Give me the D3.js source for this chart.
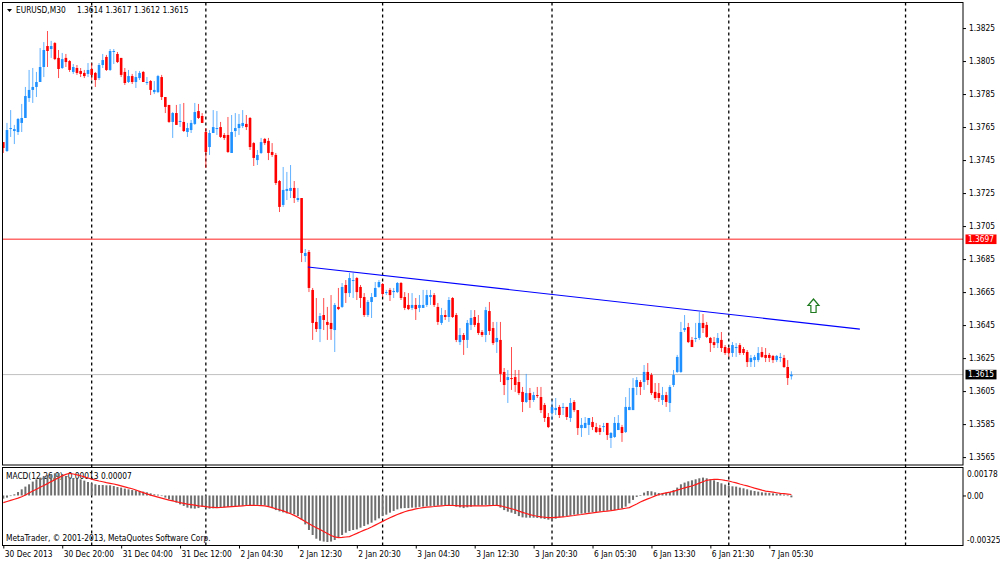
<!DOCTYPE html>
<html><head><meta charset="utf-8">
<script src="https://cdn.jsdelivr.net/npm/d3@7"></script>
<style>
html,body{margin:0;padding:0;background:#fff;}
svg{display:block;}
text{font-family:"DejaVu Sans Condensed","DejaVu Sans","Liberation Sans",sans-serif;font-size:8.3px;fill:#000;}
</style></head><body>
<svg id="c" width="1000" height="562"></svg>
<script>
const symbolLabel = "EURUSD,M30";
const lastQuote = "1.3614 1.3617 1.3612 1.3615";
const macdLabel = "MACD(12,26,9) -0.00013 0.00007";
const copyright = "MetaTrader, \u00A9 2001-2013, MetaQuotes Software Corp.";

const opens = [1.37559,1.37505,1.37638,1.37626,1.37620,1.37675,1.37705,1.37826,1.37875,1.37893,
1.37923,1.38014,1.38141,1.38123,1.38159,1.38069,1.38008,1.38069,1.38050,1.37984,
1.38008,1.37990,1.37978,1.37972,1.38002,1.37978,1.37947,1.38026,1.38075,1.37996,
1.38105,1.38093,1.38069,1.37984,1.37923,1.37959,1.37923,1.37947,1.37984,1.37917,
1.37929,1.37862,1.37862,1.37953,1.37832,1.37784,1.37681,1.37735,1.37681,1.37681,
1.37620,1.37632,1.37669,1.37747,1.37717,1.37620,1.37529,1.37614,1.37638,1.37650,
1.37602,1.37602,1.37493,1.37626,1.37644,1.37656,1.37669,1.37705,1.37553,1.37450,
1.37493,1.37578,1.37566,1.37499,1.37481,1.37323,1.37178,1.37263,1.37263,1.37281,
1.37208,1.37220,1.36869,1.36893,1.36663,1.36469,1.36426,1.36511,1.36469,1.36463,
1.36420,1.36560,1.36560,1.36693,1.36644,1.36717,1.36735,1.36681,1.36620,1.36511,
1.36590,1.36620,1.36681,1.36699,1.36644,1.36663,1.36650,1.36650,1.36705,1.36620,
1.36572,1.36554,1.36572,1.36554,1.36554,1.36572,1.36620,1.36632,1.36560,1.36463,
1.36511,1.36499,1.36614,1.36511,1.36347,1.36390,1.36360,1.36451,1.36499,1.36463,
1.36408,1.36390,1.36535,1.36432,1.36347,1.36360,1.36166,1.36117,1.36129,1.36135,
1.36105,1.36045,1.35984,1.36038,1.35996,1.36026,1.36014,1.35966,1.35893,1.35917,
1.35935,1.35954,1.35948,1.35954,1.35887,1.35984,1.35935,1.35826,1.35826,1.35845,
1.35863,1.35832,1.35826,1.35832,1.35857,1.35766,1.35772,1.35814,1.35832,1.35802,
1.35935,1.35935,1.36075,1.36105,1.36105,1.36166,1.36148,1.36045,1.36038,1.35996,
1.36026,1.35978,1.36087,1.36166,1.36166,1.36420,1.36438,1.36360,1.36366,1.36372,
1.36463,1.36451,1.36372,1.36347,1.36341,1.36360,1.36317,1.36311,1.36281,1.36311,
1.36329,1.36305,1.36287,1.36226,1.36238,1.36238,1.36287,1.36269,1.36269,1.36263,
1.36238,1.36251,1.36251,1.36196,1.36140];
const highs = [1.37559,1.37675,1.37753,1.37663,1.37705,1.37790,1.37893,1.37996,1.38008,1.37984,
1.38129,1.38165,1.38232,1.38172,1.38165,1.38117,1.38099,1.38093,1.38056,1.38032,
1.38026,1.38008,1.37996,1.38038,1.38038,1.37984,1.38038,1.38093,1.38087,1.38123,
1.38123,1.38105,1.38069,1.38008,1.37996,1.37972,1.37990,1.37990,1.37990,1.37953,
1.37935,1.37929,1.37966,1.37966,1.37832,1.37784,1.37741,1.37784,1.37790,1.37796,
1.37675,1.37693,1.37796,1.37790,1.37735,1.37644,1.37632,1.37753,1.37747,1.37681,
1.37614,1.37711,1.37723,1.37735,1.37729,1.37753,1.37723,1.37711,1.37559,1.37511,
1.37584,1.37584,1.37584,1.37553,1.37493,1.37329,1.37408,1.37378,1.37420,1.37323,
1.37281,1.37220,1.36911,1.36905,1.36675,1.36614,1.36523,1.36614,1.36560,1.36632,
1.36584,1.36675,1.36705,1.36723,1.36766,1.36766,1.36741,1.36693,1.36644,1.36602,
1.36644,1.36711,1.36723,1.36705,1.36663,1.36675,1.36675,1.36711,1.36711,1.36650,
1.36644,1.36644,1.36614,1.36632,1.36663,1.36663,1.36663,1.36644,1.36584,1.36554,
1.36541,1.36620,1.36620,1.36523,1.36432,1.36402,1.36481,1.36541,1.36541,1.36511,
1.36420,1.36560,1.36590,1.36469,1.36469,1.36469,1.36190,1.36178,1.36317,1.36178,
1.36178,1.36075,1.36154,1.36069,1.36045,1.36075,1.36075,1.35978,1.35917,1.35996,
1.36008,1.35966,1.35978,1.35954,1.36008,1.35996,1.35935,1.35887,1.35893,1.35887,
1.35893,1.35857,1.35845,1.35857,1.35857,1.35802,1.35893,1.35905,1.35845,1.36014,
1.36069,1.36129,1.36135,1.36117,1.36208,1.36220,1.36160,1.36099,1.36099,1.36075,
1.36045,1.36087,1.36178,1.36269,1.36469,1.36511,1.36463,1.36378,1.36463,1.36529,
1.36517,1.36469,1.36378,1.36378,1.36402,1.36408,1.36329,1.36317,1.36347,1.36341,
1.36341,1.36317,1.36299,1.36269,1.36269,1.36317,1.36317,1.36311,1.36281,1.36269,
1.36269,1.36281,1.36269,1.36238,1.36170];
const lows = [1.37493,1.37499,1.37590,1.37547,1.37602,1.37620,1.37705,1.37802,1.37796,1.37832,
1.37923,1.37953,1.38014,1.38069,1.38056,1.37947,1.38002,1.38014,1.37984,1.37972,
1.37966,1.37953,1.37947,1.37953,1.37935,1.37893,1.37935,1.38008,1.37990,1.37990,
1.38032,1.38038,1.37953,1.37905,1.37917,1.37911,1.37887,1.37935,1.37923,1.37905,
1.37844,1.37850,1.37856,1.37814,1.37735,1.37675,1.37584,1.37663,1.37650,1.37620,
1.37590,1.37614,1.37663,1.37699,1.37675,1.37402,1.37481,1.37614,1.37602,1.37584,
1.37572,1.37493,1.37493,1.37590,1.37602,1.37644,1.37632,1.37511,1.37414,1.37420,
1.37487,1.37541,1.37450,1.37469,1.37299,1.37135,1.37166,1.37208,1.37220,1.37190,
1.37196,1.36832,1.36832,1.36650,1.36360,1.36408,1.36347,1.36420,1.36360,1.36360,
1.36287,1.36541,1.36554,1.36584,1.36620,1.36614,1.36602,1.36554,1.36499,1.36499,
1.36493,1.36620,1.36675,1.36620,1.36632,1.36596,1.36614,1.36644,1.36602,1.36541,
1.36541,1.36541,1.36481,1.36529,1.36554,1.36560,1.36572,1.36560,1.36451,1.36451,
1.36481,1.36469,1.36493,1.36347,1.36329,1.36269,1.36311,1.36420,1.36438,1.36390,
1.36378,1.36347,1.36390,1.36329,1.36281,1.36105,1.36026,1.35978,1.36057,1.36045,
1.36026,1.35923,1.35978,1.35948,1.35984,1.36008,1.35917,1.35863,1.35826,1.35875,
1.35905,1.35887,1.35905,1.35875,1.35863,1.35923,1.35784,1.35772,1.35826,1.35784,
1.35814,1.35796,1.35784,1.35802,1.35754,1.35705,1.35766,1.35814,1.35742,1.35796,
1.35935,1.35935,1.36026,1.36026,1.36057,1.36087,1.36026,1.35996,1.35984,1.35966,
1.35954,1.35923,1.36075,1.36160,1.36160,1.36408,1.36341,1.36317,1.36347,1.36360,
1.36402,1.36372,1.36287,1.36311,1.36311,1.36287,1.36269,1.36257,1.36257,1.36257,
1.36269,1.36269,1.36196,1.36196,1.36196,1.36226,1.36251,1.36226,1.36226,1.36220,
1.36226,1.36226,1.36190,1.36087,1.36120];
const closes = [1.37523,1.37632,1.37644,1.37638,1.37699,1.37705,1.37838,1.37875,1.37893,1.37923,
1.38014,1.38117,1.38111,1.38141,1.38062,1.38002,1.38062,1.38044,1.37996,1.38014,
1.37978,1.37972,1.37959,1.37996,1.37966,1.37935,1.38026,1.38056,1.37996,1.38111,
1.38111,1.38044,1.37966,1.37917,1.37959,1.37923,1.37953,1.37978,1.37923,1.37923,
1.37875,1.37875,1.37959,1.37832,1.37772,1.37681,1.37735,1.37663,1.37687,1.37626,
1.37644,1.37675,1.37741,1.37705,1.37675,1.37499,1.37614,1.37650,1.37644,1.37590,
1.37584,1.37499,1.37620,1.37644,1.37669,1.37675,1.37650,1.37529,1.37463,1.37481,
1.37559,1.37553,1.37493,1.37481,1.37311,1.37166,1.37269,1.37275,1.37281,1.37220,
1.37220,1.36887,1.36887,1.36675,1.36463,1.36426,1.36505,1.36481,1.36451,1.36426,
1.36572,1.36547,1.36681,1.36644,1.36735,1.36723,1.36650,1.36614,1.36511,1.36590,
1.36620,1.36675,1.36711,1.36638,1.36650,1.36632,1.36657,1.36705,1.36614,1.36554,
1.36547,1.36572,1.36547,1.36572,1.36572,1.36632,1.36632,1.36572,1.36469,1.36511,
1.36499,1.36602,1.36499,1.36360,1.36390,1.36360,1.36463,1.36493,1.36451,1.36402,
1.36390,1.36541,1.36414,1.36341,1.36372,1.36154,1.36087,1.36135,1.36123,1.36087,
1.36038,1.35984,1.36038,1.35996,1.36026,1.36020,1.35935,1.35887,1.35832,1.35954,
1.35948,1.35905,1.35954,1.35893,1.35978,1.35935,1.35826,1.35845,1.35857,1.35887,
1.35832,1.35802,1.35802,1.35838,1.35784,1.35796,1.35857,1.35857,1.35796,1.35954,
1.35954,1.36069,1.36117,1.36075,1.36166,1.36117,1.36038,1.36008,1.36008,1.36026,
1.35984,1.36075,1.36148,1.36257,1.36408,1.36432,1.36347,1.36317,1.36372,1.36463,
1.36432,1.36378,1.36341,1.36329,1.36372,1.36311,1.36281,1.36281,1.36329,1.36317,
1.36281,1.36281,1.36226,1.36251,1.36257,1.36281,1.36257,1.36251,1.36251,1.36238,
1.36263,1.36257,1.36196,1.36129,1.36150];

const macdMain = [-0.00022,-0.00015,-0.00004,0.00008,0.00024,0.00043,0.00062,0.00078,0.00097,0.00113,
0.00125,0.00136,0.00143,0.00150,0.00155,0.00157,0.00150,0.00136,0.00127,0.00122,
0.00118,0.00113,0.00104,0.00094,0.00085,0.00078,0.00073,0.00073,0.00071,0.00071,
0.00066,0.00059,0.00055,0.00048,0.00043,0.00038,0.00036,0.00031,0.00027,0.00022,
0.00015,0.00008,0.00006,-0.00004,-0.00015,-0.00027,-0.00038,-0.00050,-0.00062,-0.00073,
-0.00085,-0.00090,-0.00092,-0.00088,-0.00080,-0.00088,-0.00092,-0.00090,-0.00088,-0.00085,
-0.00083,-0.00080,-0.00078,-0.00076,-0.00073,-0.00071,-0.00069,-0.00069,-0.00066,-0.00066,
-0.00066,-0.00069,-0.00076,-0.00088,-0.00102,-0.00111,-0.00118,-0.00125,-0.00127,-0.00132,
-0.00144,-0.00167,-0.00202,-0.00241,-0.00276,-0.00302,-0.00316,-0.00322,-0.00325,-0.00322,
-0.00311,-0.00295,-0.00276,-0.00260,-0.00248,-0.00241,-0.00237,-0.00225,-0.00213,-0.00202,
-0.00190,-0.00174,-0.00160,-0.00144,-0.00134,-0.00120,-0.00108,-0.00097,-0.00090,-0.00088,
-0.00088,-0.00085,-0.00085,-0.00080,-0.00078,-0.00076,-0.00073,-0.00073,-0.00071,-0.00069,
-0.00069,-0.00069,-0.00071,-0.00078,-0.00083,-0.00088,-0.00083,-0.00078,-0.00073,-0.00071,
-0.00069,-0.00066,-0.00066,-0.00069,-0.00071,-0.00085,-0.00102,-0.00113,-0.00120,-0.00129,
-0.00144,-0.00153,-0.00155,-0.00155,-0.00155,-0.00157,-0.00160,-0.00164,-0.00169,-0.00174,
-0.00162,-0.00153,-0.00148,-0.00144,-0.00139,-0.00134,-0.00132,-0.00127,-0.00122,-0.00120,
-0.00118,-0.00115,-0.00111,-0.00108,-0.00106,-0.00104,-0.00102,-0.00097,-0.00090,-0.00078,
-0.00055,-0.00031,-0.00010,0.00001,0.00020,0.00031,0.00029,0.00022,0.00017,0.00015,
0.00020,0.00024,0.00038,0.00055,0.00078,0.00090,0.00099,0.00106,0.00113,0.00120,
0.00125,0.00120,0.00113,0.00106,0.00094,0.00085,0.00076,0.00066,0.00064,0.00062,
0.00055,0.00050,0.00043,0.00036,0.00031,0.00027,0.00022,0.00020,0.00017,0.00015,
0.00013,0.00010,0.00006,-0.00004,-0.00013];
const macdSignal = [-0.00050,-0.00042,-0.00034,-0.00026,-0.00018,-0.00009,0.00003,0.00017,0.00031,0.00044,
0.00057,0.00070,0.00083,0.00097,0.00110,0.00124,0.00137,0.00147,0.00155,0.00150,
0.00144,0.00138,0.00130,0.00122,0.00114,0.00107,0.00101,0.00096,0.00090,0.00085,
0.00080,0.00074,0.00067,0.00060,0.00053,0.00047,0.00038,0.00029,0.00020,0.00011,
0.00003,-0.00004,-0.00011,-0.00018,-0.00025,-0.00032,-0.00038,-0.00044,-0.00050,-0.00055,
-0.00060,-0.00064,-0.00068,-0.00072,-0.00075,-0.00078,-0.00081,-0.00083,-0.00085,-0.00084,
-0.00082,-0.00080,-0.00078,-0.00076,-0.00074,-0.00072,-0.00070,-0.00069,-0.00069,-0.00070,
-0.00071,-0.00073,-0.00078,-0.00085,-0.00093,-0.00100,-0.00108,-0.00118,-0.00128,-0.00139,
-0.00152,-0.00167,-0.00182,-0.00197,-0.00212,-0.00225,-0.00238,-0.00252,-0.00266,-0.00280,
-0.00289,-0.00295,-0.00293,-0.00290,-0.00287,-0.00276,-0.00265,-0.00253,-0.00242,-0.00232,
-0.00220,-0.00207,-0.00194,-0.00181,-0.00168,-0.00156,-0.00144,-0.00133,-0.00123,-0.00114,
-0.00106,-0.00100,-0.00094,-0.00089,-0.00085,-0.00082,-0.00079,-0.00077,-0.00074,-0.00072,
-0.00070,-0.00069,-0.00070,-0.00071,-0.00072,-0.00073,-0.00073,-0.00073,-0.00073,-0.00073,
-0.00073,-0.00072,-0.00071,-0.00070,-0.00069,-0.00072,-0.00079,-0.00086,-0.00093,-0.00100,
-0.00109,-0.00118,-0.00126,-0.00134,-0.00140,-0.00145,-0.00149,-0.00152,-0.00155,-0.00155,
-0.00153,-0.00151,-0.00149,-0.00147,-0.00143,-0.00140,-0.00136,-0.00133,-0.00129,-0.00125,
-0.00122,-0.00118,-0.00115,-0.00112,-0.00109,-0.00106,-0.00102,-0.00098,-0.00094,-0.00089,
-0.00085,-0.00072,-0.00060,-0.00046,-0.00034,-0.00024,-0.00014,-0.00003,0.00007,0.00013,
0.00018,0.00023,0.00029,0.00037,0.00045,0.00053,0.00060,0.00066,0.00076,0.00086,
0.00096,0.00106,0.00110,0.00112,0.00113,0.00110,0.00105,0.00101,0.00094,0.00088,
0.00080,0.00073,0.00067,0.00059,0.00051,0.00044,0.00037,0.00031,0.00027,0.00023,
0.00019,0.00015,0.00013,0.00010,0.00007];

const tickBars = [0,16,32,48,64,80,96,112,128,144,160,176,192,208];
const tickLabels = ["30 Dec 2013","30 Dec 20:00","31 Dec 04:00","31 Dec 12:00","2 Jan 04:30","2 Jan 12:30",
  "2 Jan 20:30","3 Jan 04:30","3 Jan 12:30","3 Jan 20:30","6 Jan 05:30","6 Jan 13:30","6 Jan 21:30","7 Jan 05:30"];
const separatorBars = [24,55,103,149,197,245];
const priceTicks = [1.3825,1.3805,1.3785,1.3765,1.3745,1.3725,1.3705,1.3685,1.3665,1.3645,1.3625,1.3605,1.3585,1.3565];
const hLineLevel = 1.3697;
const bidLevel = 1.3615;
const trendBars = [82.7, 232.6];
const trendPrices = [1.36802, 1.36426];
const arrowBar = 220;
const arrowPrice = 1.36608;
const macdTicks = [0.00178, 0, -0.00325];
const macdTickLabels = ["0.00178", "0.00", "-0.00325"];

// ---------- layout ----------
const plotL = 2, plotR = 963, mainT = 2.5, mainB = 465, macdT = 467.5, macdB = 545.5;
const bull = "#1e90ff", bear = "#ff0000";

const svg = d3.select("#c");
svg.append("rect").attr("width",1000).attr("height",562).attr("fill","#fff");

const x = d3.scaleLinear().domain([0, 260.6]).range([3.3, plotR]);
const y = d3.scaleLinear().domain([1.3565, 1.3825]).range([457.1, 28.05]);
const my = d3.scaleLinear().domain([-0.00325, 0.00178]).range([542, 470]);

const defs = svg.append("defs");
defs.append("clipPath").attr("id","clipMain").append("rect")
  .attr("x",plotL).attr("y",mainT).attr("width",plotR-plotL).attr("height",mainB-mainT);
defs.append("clipPath").attr("id","clipMacd").append("rect")
  .attr("x",plotL).attr("y",macdT).attr("width",plotR-plotL).attr("height",macdB-macdT);

// separators
svg.append("g").selectAll("line").data(separatorBars).join("line")
  .attr("x1",d=>x(d)).attr("x2",d=>x(d)).attr("y1",mainT).attr("y2",macdB)
  .attr("stroke","#000").attr("stroke-width",1.3).attr("stroke-dasharray","3,3");

const gM = svg.append("g").attr("clip-path","url(#clipMain)");
// horizontal lines
gM.append("line").attr("x1",plotL).attr("x2",plotR).attr("y1",y(hLineLevel)).attr("y2",y(hLineLevel))
  .attr("stroke","#ff6a6a").attr("stroke-width",1.6);
gM.append("line").attr("x1",plotL).attr("x2",plotR).attr("y1",y(bidLevel)).attr("y2",y(bidLevel))
  .attr("stroke","#c0c0c0").attr("stroke-width",1);

const bars = opens.map((o,i)=>({i, o, h:highs[i], l:lows[i], c:closes[i]}));
gM.append("g").selectAll("line").data(bars).join("line")
  .attr("x1",d=>x(d.i)).attr("x2",d=>x(d.i)).attr("y1",d=>y(d.h)).attr("y2",d=>y(d.l))
  .attr("stroke",d=>d.c>=d.o?bull:bear).attr("stroke-width",1).attr("stroke-opacity",0.7);
gM.append("g").selectAll("rect").data(bars).join("rect")
  .attr("x",d=>x(d.i)-1.3).attr("width",2.6)
  .attr("y",d=>y(Math.max(d.o,d.c)))
  .attr("height",d=>Math.max(1,Math.abs(y(d.o)-y(d.c))))
  .attr("fill",d=>d.c>=d.o?bull:bear);

// trend line
gM.append("line").attr("x1",x(trendBars[0])).attr("y1",y(trendPrices[0]))
  .attr("x2",x(trendBars[1])).attr("y2",y(trendPrices[1]))
  .attr("stroke","#0000ff").attr("stroke-width",1.2);

// arrow
gM.append("path").attr("transform",`translate(${x(arrowBar)},${y(arrowPrice)})`)
  .attr("d","M0,0 L5.5,6.5 L2.6,6.5 L2.6,13.5 L-2.6,13.5 L-2.6,6.5 L-5.5,6.5 Z")
  .attr("fill","#fff").attr("stroke","#1f7a1f").attr("stroke-width",1.2);

// MACD
const gD = svg.append("g").attr("clip-path","url(#clipMacd)");
gD.append("text").attr("x",6).attr("y",478.5).text(macdLabel);
gD.append("text").attr("x",6).attr("y",540.5).text(copyright);
gD.append("g").selectAll("rect").data(macdMain.map((v,i)=>({i,v}))).join("rect")
  .attr("x",d=>x(d.i)-1).attr("width",2)
  .attr("y",d=>Math.min(my(0),my(d.v)))
  .attr("height",d=>Math.max(0.6,Math.abs(my(d.v)-my(0))))
  .attr("fill","#6e6e6e");
gD.append("path").datum(macdSignal)
  .attr("d",d3.line().x((d,i)=>x(i)).y(d=>my(d)))
  .attr("fill","none").attr("stroke","#ff1a1a").attr("stroke-width",1.2);

// borders
svg.append("rect").attr("x",plotL+0.5).attr("y",mainT).attr("width",plotR-plotL-0.5).attr("height",mainB-mainT)
  .attr("fill","none").attr("stroke","#000").attr("stroke-width",1);
svg.append("rect").attr("x",plotL+0.5).attr("y",macdT).attr("width",plotR-plotL-0.5).attr("height",macdB-macdT)
  .attr("fill","none").attr("stroke","#000").attr("stroke-width",1);

// price axis
const ya = svg.append("g").attr("transform",`translate(${plotR},0)`)
  .call(d3.axisRight(y).tickValues(priceTicks).tickFormat(d3.format(".4f")).tickSize(3).tickPadding(3));
ya.select(".domain").remove();
ya.selectAll("line").attr("stroke","#000");
ya.selectAll("text").attr("fill","#000").style("font-size","8.3px").style("font-family",null);

// price boxes
const boxes = [{v:hLineLevel, bg:"#ff0000"},{v:bidLevel, bg:"#000"}];
const gb = svg.append("g").selectAll("g").data(boxes).join("g");
gb.append("rect").attr("x",plotR+2.5).attr("y",d=>y(d.v)-4.8).attr("width",31).attr("height",9.6).attr("fill",d=>d.bg);
gb.append("text").attr("x",plotR+5).attr("y",d=>y(d.v)).attr("dy","0.35em")
  .style("fill","#fff").text(d=>d3.format(".4f")(d.v));

// macd axis
const ma = svg.append("g").attr("transform",`translate(${plotR},0)`)
  .call(d3.axisRight(my).tickValues(macdTicks).tickFormat((d,i)=>macdTickLabels[i]).tickSize(3).tickPadding(1));
ma.select(".domain").remove();
ma.selectAll("line").attr("stroke","#000");
ma.selectAll("text").attr("fill","#000").style("font-size","8.3px").style("font-family",null)
  .attr("dy",(d,i)=> i===0 ? "0.75em" : (i===2 ? "0.05em" : "0.32em"));
ma.selectAll(".tick").filter((d,i)=>i!==1).select("line").remove();

// time axis
const xa = svg.append("g").attr("transform",`translate(0,${macdB})`)
  .call(d3.axisBottom(x).tickValues(tickBars).tickFormat((d,i)=>tickLabels[i]).tickSize(3).tickSizeOuter(0));
xa.select(".domain").remove();
xa.selectAll("line").attr("stroke","#000");
xa.selectAll("text").attr("fill","#000").style("font-size","8.3px").style("font-family",null)
  .attr("text-anchor","start").attr("x",1);

// header
svg.append("path").attr("d","M7,9 L12,9 L9.5,12 Z").attr("fill","#000");
svg.append("text").attr("x",16).attr("y",13).text(symbolLabel);
svg.append("text").attr("x",77).attr("y",13).text(lastQuote);
</script>
</body></html>
